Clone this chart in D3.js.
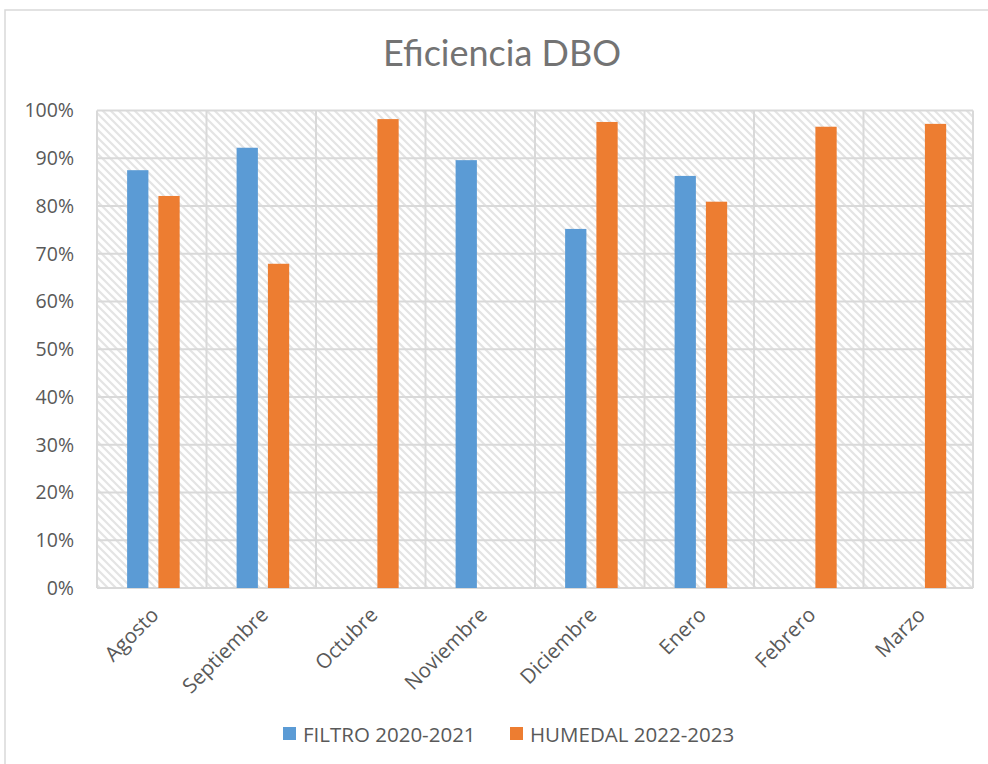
<!DOCTYPE html>
<html>
<head>
    <meta charset="UTF-8">
    <title>Eficiencia DBO</title>
    <style>
        body { margin: 0; background: #fff; }
        text { font-family: "Open Sans", sans-serif; fill: #595959; }
    </style>
</head>
<body>
<script src="https://cdn.jsdelivr.net/npm/d3@7/dist/d3.min.js"></script>
<script>
    // datos
    var meses = ["Agosto", "Septiembre", "Octubre", "Noviembre", "Diciembre", "Enero", "Febrero", "Marzo"];
    var series = ["FILTRO 2020-2021", "HUMEDAL 2022-2023"];
    var filtro = [0.875, 0.922, null, 0.896, 0.752, 0.863, null, null];
    var humedal = [0.821, 0.679, 0.982, null, 0.976, 0.809, 0.966, 0.972];
    var colores = ["#5b9bd5", "#ed7d31"];
    var yTicks = [0, 0.1, 0.2, 0.3, 0.4, 0.5, 0.6, 0.7, 0.8, 0.9, 1];

    var width = 988, height = 764;
    var plot = {left: 97, right: 973, top: 110.5, bottom: 588};

    var svg = d3.select("body").append("svg")
        .attr("width", width)
        .attr("height", height);

    // patrón de rayas diagonales del fondo
    var defs = svg.append("defs");
    var pat = defs.append("pattern")
        .attr("id", "rayas")
        .attr("patternUnits", "userSpaceOnUse")
        .attr("width", 8)
        .attr("height", 8);
    pat.append("rect").attr("width", 8).attr("height", 8).attr("fill", "#fff");
    pat.append("path")
        .attr("d", "M-2,-2 L10,10 M-2,6 L2,10 M6,-2 L10,2")
        .attr("stroke", "#e4e4e4")
        .attr("stroke-width", 2.2);

    // marco exterior
    svg.append("path")
        .attr("d", "M5," + height + " L5,10 L" + width + ",10")
        .attr("fill", "none")
        .attr("stroke", "#d9d9d9")
        .attr("stroke-width", 1.5);

    // titulo
    svg.append("text")
        .attr("x", 502)
        .attr("y", 66)
        .attr("text-anchor", "middle")
        .style("font-family", "Lato, sans-serif")
        .style("font-size", "36px")
        .style("fill", "#737373")
        .text("Eficiencia DBO");

    var x0 = d3.scaleBand()
        .domain(meses)
        .range([plot.left, plot.right])
        .paddingInner(0)
        .paddingOuter(0);

    var x1 = d3.scaleBand()
        .domain(series)
        .range([x0.bandwidth() * 0.275, x0.bandwidth() * 0.755])
        .paddingInner(0.32)
        .paddingOuter(0);

    var y = d3.scaleLinear()
        .domain([0, 1])
        .range([plot.bottom, plot.top]);

    // fondo rayado
    svg.append("rect")
        .attr("x", plot.left)
        .attr("y", plot.top)
        .attr("width", plot.right - plot.left)
        .attr("height", plot.bottom - plot.top)
        .attr("fill", "url(#rayas)");

    // cuadricula horizontal
    svg.append("g")
        .selectAll("line")
        .data(yTicks)
        .join("line")
        .attr("x1", plot.left)
        .attr("x2", plot.right)
        .attr("y1", d => y(d))
        .attr("y2", d => y(d))
        .attr("stroke", "#d9d9d9")
        .attr("stroke-width", 2);

    // cuadricula vertical
    var bordes = meses.map(m => x0(m)).concat([plot.right]);
    svg.append("g")
        .selectAll("line")
        .data(bordes)
        .join("line")
        .attr("x1", d => d)
        .attr("x2", d => d)
        .attr("y1", plot.top)
        .attr("y2", plot.bottom)
        .attr("stroke", "#d9d9d9")
        .attr("stroke-width", 2);

    // eje y
    var yAxis = d3.axisLeft(y)
        .tickValues(yTicks)
        .tickFormat(d3.format(".0%"))
        .tickSize(0)
        .tickPadding(23);
    var gy = svg.append("g")
        .attr("transform", "translate(" + plot.left + ",0)")
        .call(yAxis);
    gy.select(".domain").remove();
    gy.selectAll("text")
        .style("font-size", "19.5px")
        .attr("fill", "#595959");

    // barras
    var datos = [filtro, humedal];
    var grupos = svg.append("g")
        .selectAll("g")
        .data(series)
        .join("g")
        .attr("fill", (d, i) => colores[i]);

    grupos.selectAll("rect")
        .data((s, si) => meses.map((m, i) => ({mes: m, serie: s, v: datos[si][i]})).filter(d => d.v != null))
        .join("rect")
        .attr("x", d => x0(d.mes) + x1(d.serie))
        .attr("y", d => y(d.v))
        .attr("width", x1.bandwidth())
        .attr("height", d => y(0) - y(d.v));

    // etiquetas eje x
    svg.append("g")
        .selectAll("text")
        .data(meses)
        .join("text")
        .attr("transform", d => "translate(" + (x0(d) + x0.bandwidth() / 2 - 2) + "," + 606 + ") rotate(-45)")
        .attr("text-anchor", "end")
        .attr("dy", "0.7em")
        .style("font-size", "20.5px")
        .text(d => d);

    // leyenda
    var leyX = [283, 510];
    var ley = svg.append("g")
        .selectAll("g")
        .data(series)
        .join("g")
        .attr("transform", (d, i) => "translate(" + leyX[i] + ",727)");
    ley.append("rect")
        .attr("width", 13)
        .attr("height", 13)
        .attr("fill", (d, i) => colores[i]);
    ley.append("text")
        .attr("x", 20)
        .attr("y", 14.5)
        .style("font-size", "20.5px")
        .text(d => d);
</script>
</body>
</html>
